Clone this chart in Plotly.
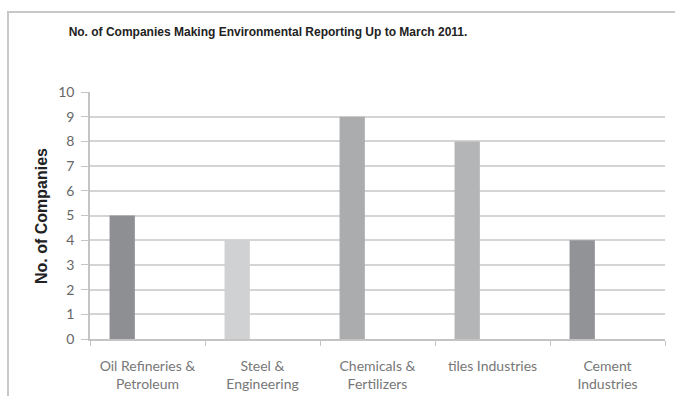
import plotly.graph_objects as go

categories = ["Oil Refineries &<br>Petroleum", "Steel &<br>Engineering", "Chemicals &<br>Fertilizers",
              "tiles Industries", "Cement<br>Industries"]
values = [5, 4, 9, 8, 4]
colors = ["#8e8f93", "#d0d1d3", "#abacae", "#b4b5b7", "#929396"]

fig = go.Figure()
fig.add_trace(go.Bar(
    x=categories, y=values, marker=dict(color=colors, line=dict(width=0)),
    width=0.22, offset=-0.33, showlegend=False,
))

fig.update_layout(
    width=675, height=396,
    margin=dict(l=90, r=10, t=92, b=57),
    paper_bgcolor="white", plot_bgcolor="white",
    title=dict(text="<b>No. of Companies Making Environmental Reporting Up to March 2011.</b>",
               x=268/675, xanchor="center", y=1-32/396, yanchor="middle", yref="container",
               font=dict(family="Liberation Sans, Arial", size=12, color="#222")),
    xaxis=dict(showgrid=False, showline=True, linecolor="#c4c4c4", linewidth=1.5,
               ticks="outside", tickson="boundaries", ticklen=5, tickcolor="#c4c4c4",
               ticklabelstandoff=13, automargin=False,
               tickfont=dict(family="Lato, Open Sans", size=14, color="#777")),
    yaxis=dict(range=[0, 10], dtick=1, showgrid=True, gridcolor="#d4d4d4", gridwidth=1.5,
               showline=True, linecolor="#c4c4c4", linewidth=1.5, zeroline=False,
               ticks="outside", ticklen=7, tickcolor="#c4c4c4", ticklabelstandoff=4,
               automargin=False,
               tickfont=dict(family="Lato, Open Sans", size=14, color="#666")),
    shapes=[dict(type="rect", xref="paper", yref="paper",
                 x0=(8-90)/575, x1=1.3, y0=-0.5, y1=(339-12)/247,
                 line=dict(color="#c8c8c8", width=2), fillcolor="rgba(0,0,0,0)", layer="below")],
    annotations=[dict(text="<b>No. of Companies</b>", xref="paper", yref="paper",
                      x=(41-90)/575, y=(339-216)/247, textangle=-90, showarrow=False,
                      xanchor="center", yanchor="middle",
                      font=dict(family="Liberation Sans, Arial", size=16, color="#222"))],
)

fig.write_html("out.html")
